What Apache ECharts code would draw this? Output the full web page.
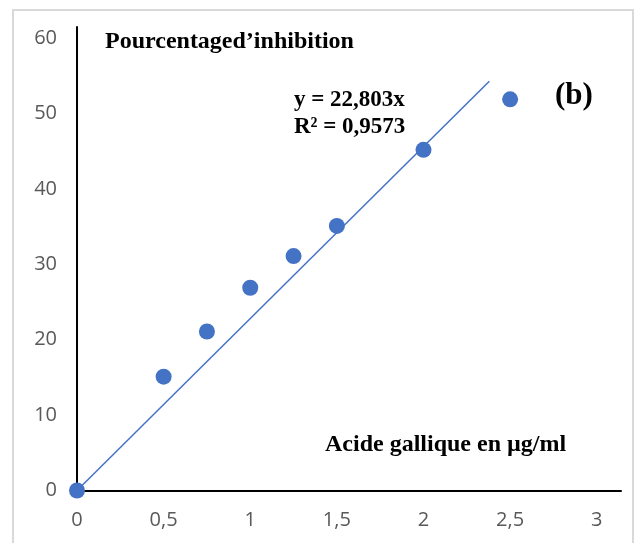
<!DOCTYPE html>
<html>
<head>
<meta charset="utf-8">
<script src="https://cdn.jsdelivr.net/npm/echarts@6/dist/echarts.min.js"></script>
<style>html,body{margin:0;padding:0;background:#fff}#c{width:640px;height:543px}</style>
</head>
<body>
<div id="c"></div>
<script>
// Data
const concentrations = [0, 0.5, 0.75, 1, 1.25, 1.5, 2, 2.5];
const inhibition = [0, 15.1, 21.1, 26.9, 31.1, 35.1, 45.2, 51.9];
const trendX = [0, 2.38];
const trendY = [0, 54.3];
const xTicks = ['0', '0,5', '1', '1,5', '2', '2,5', '3'];
const yTicks = ['0', '10', '20', '30', '40', '50', '60'];
const titleText = 'Pourcentaged\u2019inhibition';
const xAxisText = 'Acide gallique en \u00b5g/ml';
const eqText = 'y = 22,803x';
const r2Text = 'R\u00b2 = 0,9573';
const panelText = '(b)';

const blue = '#4472C4';
const serif = '"Liberation Serif","Times New Roman",serif';
const sans = '"Open Sans","Liberation Sans",sans-serif';

const chart = echarts.init(document.getElementById('c'));
chart.setOption({
  animation: false,
  grid: {left: 77, right: 19, top: 27, bottom: 52.5},
  xAxis: {
    type: 'value', min: 0, max: 3.14, interval: 0.5,
    axisLine: {show: true, lineStyle: {color: '#000', width: 2}},
    axisTick: {show: false},
    splitLine: {show: false},
    axisLabel: {
      color: '#595959', fontFamily: sans, fontSize: 20, margin: 20,
      showMaxLabel: false,
      formatter: v => { const i = Math.round(v / 0.5); return (Math.abs(v - i * 0.5) < 1e-9 && xTicks[i] !== undefined) ? xTicks[i] : ''; }
    }
  },
  yAxis: {
    type: 'value', min: 0, max: 61.5, interval: 10, offset: 4,
    axisLine: {show: true, lineStyle: {color: '#000', width: 2}},
    axisTick: {show: false},
    splitLine: {show: false},
    axisLabel: {
      color: '#595959', fontFamily: sans, fontSize: 20, margin: 16,
      showMaxLabel: false,
      formatter: v => { const i = Math.round(v / 10); return (Math.abs(v - i * 10) < 1e-9 && yTicks[i] !== undefined) ? yTicks[i] : ''; }
    }
  },
  series: [
    {
      type: 'line', data: trendX.map((x, i) => [x, trendY[i]]),
      symbol: 'none', lineStyle: {color: blue, width: 1.5}, z: 2, silent: true
    },
    {
      type: 'scatter', data: concentrations.map((x, i) => [x, inhibition[i]]),
      symbolSize: 16, itemStyle: {color: blue, opacity: 1}, z: 3
    }
  ],
  graphic: [
    {type: 'rect', shape: {x: 13, y: 10, width: 620, height: 560}, style: {fill: 'none', stroke: '#d9d9d9', lineWidth: 2}, z: -10},
    {type: 'text', left: 105, top: 30, style: {text: titleText, font: 'bold 24px ' + serif, fill: '#000'}},
    {type: 'text', left: 294, top: 89, style: {text: eqText, font: 'bold 23px ' + serif, fill: '#000'}},
    {type: 'text', left: 294, top: 116, style: {text: r2Text, font: 'bold 23px ' + serif, fill: '#000'}},
    {type: 'text', left: 555, top: 80, style: {text: panelText, font: 'bold 31px ' + serif, fill: '#000'}},
    {type: 'text', left: 325, top: 433, style: {text: xAxisText, font: 'bold 24px ' + serif, fill: '#000'}}
  ]
});
</script>
</body>
</html>
